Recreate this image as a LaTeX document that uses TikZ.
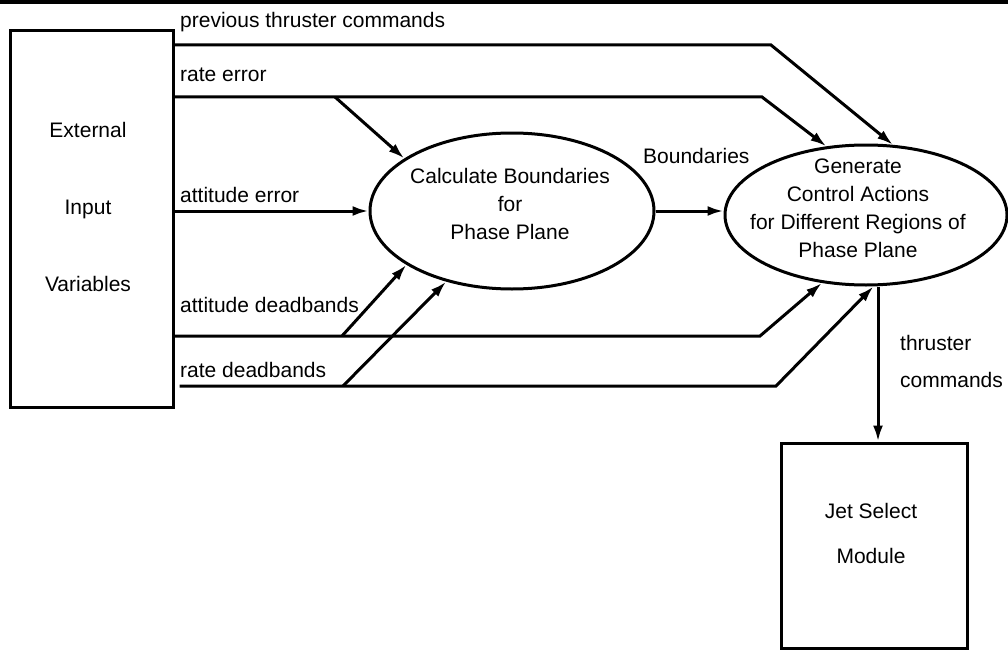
\documentclass[tikz,border=0pt]{standalone}
\usepackage{fontspec}
\setmainfont{Liberation Sans}
\usetikzlibrary{shapes.geometric,arrows.meta}
\begin{document}
\begin{tikzpicture}[x=1pt,y=-1pt,
  every node/.style={font=\fontsize{21}{28}\selectfont},
  blk/.style={draw,rectangle,line width=3pt,inner sep=0pt},
  oval/.style={draw,ellipse,line width=3pt,inner sep=0pt},
  txt/.style={align=center,inner sep=0pt},
  lbl/.style={anchor=base west,inner sep=0pt},
  wire/.style={line width=3pt},
  flow/.style={wire,-{Latex[length=16pt,width=10pt]}},
]
\useasboundingbox (0,0) rectangle (1008,650);

% rule across the top
\draw[line width=4pt] (0,2.5) -- (1008,2.5);

% blocks
\node[blk,minimum width=163pt,minimum height=376pt] (ext) at (91.5,219) {};
\node[txt] (extt) at (88,207.4) {External\\[49pt]Input\\[49pt]Variables};

\node[oval,minimum width=284pt,minimum height=156pt] (e1) at (512,211) {};
\node[txt] (e1t) at (510,204.4) {Calculate Boundaries\\for\\Phase Plane};

\node[oval,minimum width=282pt,minimum height=140pt] (e2) at (866,215) {};
\node[txt] (e2t) at (858,208.4) {Generate\\Control Actions\\for Different Regions of\\Phase Plane};

\node[blk,minimum width=186pt,minimum height=205pt] (jet) at (874,545.5) {};
\node[txt] (jett) at (871,533) {Jet Select\\[17pt]Module};

% labels on the flows
\node[lbl] (l1) at (180,28) {previous thruster commands};
\node[lbl] (l2) at (180,82) {rate error};
\node[lbl] (l3) at (180,202) {attitude error};
\node[lbl] (l4) at (180,312) {attitude deadbands};
\node[lbl] (l5) at (180,377) {rate deadbands};
\node[lbl] (l6) at (643,163) {Boundaries};
\node[txt,align=left,anchor=west] (l7) at (900,361) {thruster\\[9pt]commands};

% branch points
\coordinate (b1) at (335,97);
\coordinate (b2) at (342,336);
\coordinate (b3) at (343,386);
\coordinate (tc) at ([xshift=4pt]jet.north);

% flows
\draw[flow] (ext.east |- 0,45) -- (771,45) -- (e2.69);
\draw[flow] (ext.east |- b1) -- (762,97) -- (e2.120);
\draw[flow] (b1) -- (e1.154);
\draw[flow] (ext.east |- e1.west) -- (e1.west);
\draw[flow] (ext.east |- b2) -- (760,336) -- (e2.237);
\draw[flow] (b2) -- (e1.207);
\draw[flow] ([xshift=5pt]ext.east |- b3) -- (776,386) -- (e2.276);
\draw[flow] (b3) -- (e1.227);
\draw[flow] (e1.east) -- (e1.east -| e2.west);
\draw[flow] (e2.south -| tc) -- (tc);
\end{tikzpicture}
\end{document}
